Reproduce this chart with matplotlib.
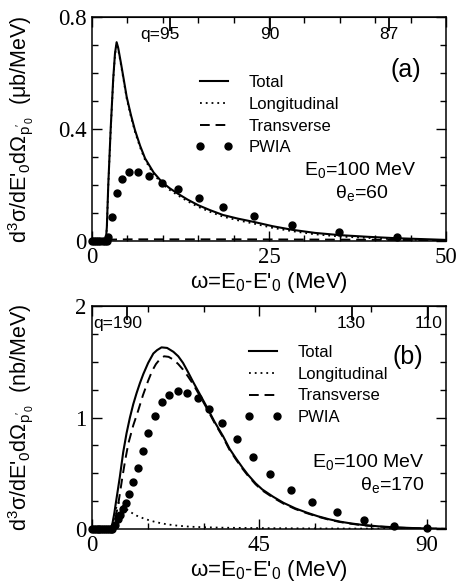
import matplotlib.pyplot as plt
import matplotlib.transforms as mtransforms
from matplotlib.ticker import MultipleLocator, FixedLocator, NullLocator

plt.rcParams['font.family'] = 'Liberation Sans'
plt.rcParams['mathtext.fontset'] = 'custom'
plt.rcParams['mathtext.rm'] = 'Liberation Sans'
plt.rcParams['mathtext.it'] = 'Liberation Sans:italic'

TICK_FONT = 'Liberation Serif'

# ---- panel (a): theta_e = 60 ----
w_total_a = [0, 1.95, 2.1, 2.3, 2.64, 3.0, 3.25, 3.48, 3.7, 4.1, 4.5, 4.9, 5.5, 6.07, 6.8,
             7.5, 8.7, 9.9, 11.0, 12.2, 13.5, 15.0, 16.7, 18.5, 20.6, 22.9, 25.5, 28.3,
             31.5, 35.0, 39.0, 43.0, 46.5, 50.0]
total_a = [0, 0, 0.05, 0.2, 0.40, 0.58, 0.67, 0.71, 0.69, 0.634, 0.575, 0.515, 0.45, 0.396,
           0.34, 0.295, 0.245, 0.21, 0.188, 0.168, 0.148, 0.128, 0.11, 0.093, 0.08, 0.068,
           0.053, 0.04, 0.029, 0.021, 0.015, 0.01, 0.007, 0.004]
long_a = [0, 0, 0.045, 0.195, 0.394, 0.574, 0.664, 0.704, 0.684, 0.628, 0.569, 0.509, 0.444,
          0.39, 0.334, 0.289, 0.239, 0.204, 0.182, 0.162, 0.142, 0.122, 0.104, 0.087, 0.074,
          0.062, 0.047, 0.035, 0.024, 0.016, 0.011, 0.006, 0.004, 0.001]
w_trans_a = [0, 1.95, 2.5, 5.0, 20.0, 35.0, 50.0]
trans_a = [0, 0, 0.005, 0.006, 0.006, 0.005, 0.003]
w_pwia_a = [0, 0.3, 0.6, 0.9, 1.2, 1.5, 1.8, 2.1, 2.33, 2.87, 3.48, 4.29, 5.27, 6.45, 8.1,
            9.93, 12.2, 15.1, 18.5, 22.9, 28.3, 34.9, 43.1]
pwia_a = [0, 0, 0, 0, 0, 0, 0, 0, 0.015, 0.087, 0.17, 0.222, 0.247, 0.247, 0.232, 0.208,
          0.184, 0.155, 0.121, 0.089, 0.057, 0.033, 0.015]
q_pos_a = [11.0, 25.1, 41.9]
q_labels_a = ['q=95', '90', '87']

# ---- panel (b): theta_e = 170 ----
w_total_b = [0, 5.0, 5.5, 6.0, 6.4, 7.0, 7.5, 8.4, 9.3, 10.2, 11.1, 12.0, 12.9, 13.8, 15.1,
             16.5, 17.5, 18.7, 20.2, 21.9, 23.2, 24.5, 25.8, 27.2, 29.0, 30.8, 33.0, 35.3,
             37.0, 38.8, 40.5, 42.0, 44.0, 45.8, 48.7, 51.5, 54.7, 57.7, 60.7, 63.7, 66.7,
             69.7, 72.7, 77.0, 81.6, 86.0, 90.0, 95.2]
total_b = [0, 0, 0.05, 0.14, 0.23, 0.36, 0.47, 0.69, 0.86, 1.0, 1.12, 1.22, 1.31, 1.39, 1.49,
           1.575, 1.605, 1.63, 1.625, 1.59, 1.55, 1.49, 1.41, 1.32, 1.21, 1.10, 0.96, 0.83,
           0.72, 0.63, 0.55, 0.485, 0.41, 0.355, 0.29, 0.235, 0.185, 0.148, 0.115, 0.088,
           0.066, 0.05, 0.037, 0.024, 0.015, 0.009, 0.005, 0.002]
w_trans_b = [0, 5.6, 6.2, 7.1, 8.2, 9.0, 9.8, 11.1, 12.4, 13.7, 15.1, 16.2, 17.2, 18.3, 19.4,
             20.6, 21.9, 23.2, 24.5, 25.8, 27.2, 29.0, 30.8, 33.0, 35.3, 37.0, 38.8, 40.5,
             42.0, 44.0, 45.8, 48.7, 51.5, 54.7, 57.7, 60.7, 63.7, 66.7, 69.7, 72.7, 77.0,
             81.6, 86.0, 90.0, 95.2]
trans_b = [0, 0, 0.08, 0.23, 0.47, 0.63, 0.77, 0.93, 1.06, 1.20, 1.33, 1.42, 1.48, 1.525,
           1.55, 1.545, 1.52, 1.48, 1.43, 1.37, 1.30, 1.195, 1.088, 0.95, 0.82, 0.71, 0.62,
           0.54, 0.476, 0.401, 0.346, 0.282, 0.228, 0.179, 0.143, 0.111, 0.084, 0.063,
           0.047, 0.034, 0.022, 0.013, 0.008, 0.004, 0.001]
w_long_b = [0, 5.3, 5.8, 6.2, 6.6, 7.1, 7.6, 8.0, 9.0, 10.2, 12.0, 13.8, 15.5, 17.4, 20.0,
            23.0, 26.3, 30.0, 35.0, 42.0, 50.0, 60.0, 70.0, 95.2]
long_b = [0, 0, 0.08, 0.15, 0.2, 0.235, 0.235, 0.22, 0.185, 0.155, 0.12, 0.096, 0.077, 0.06,
          0.043, 0.03, 0.021, 0.016, 0.012, 0.009, 0.007, 0.005, 0.004, 0.002]
w_pwia_b = [0, 0.5, 1.0, 1.5, 2.0, 2.5, 3.0, 3.5, 4.0, 4.5, 5.0, 5.5, 6.2, 6.9, 7.6, 8.3, 9.1,
            10.0, 11.1, 12.4, 13.6, 15.1, 16.9, 18.7, 20.8, 23.2, 25.6, 28.4, 31.5, 35.0,
            38.9, 43.2, 48.0, 53.4, 59.2, 65.8, 73.1, 81.2, 90.1]
pwia_b = [0, 0, 0, 0, 0, 0, 0, 0, 0, 0, 0, 0, 0.04, 0.09, 0.13, 0.18, 0.236, 0.314, 0.419,
          0.544, 0.70, 0.864, 1.016, 1.136, 1.202, 1.238, 1.223, 1.172, 1.076, 0.953, 0.807,
          0.649, 0.49, 0.35, 0.239, 0.15, 0.081, 0.03, 0.009]
q_pos_b = [9.5, 69.8, 90.4]
q_labels_b = ['q=190', '130', '110']


def draw_panel(ax, curves, pwia, xlim, ylim, xmajor, xminor, ymajor, yminor,
               q_pos, q_labels, unit, tag, theta, legend_xy):
    (wt, tot), (wl, lon), (wtr, tra) = curves
    l_tot, = ax.plot(wt, tot, color='k', lw=1.5, label='Total')
    l_lon, = ax.plot(wl, lon, color='k', lw=1.3, ls=(0, (1, 2.2)), label='Longitudinal')
    l_tra, = ax.plot(wtr, tra, color='k', lw=1.4, ls=(0, (5, 3)), label='Transverse')
    l_pw, = ax.plot(pwia[0], pwia[1], 'o', color='k', ms=5, label='PWIA', clip_on=False)

    ax.set_xlim(*xlim)
    ax.set_ylim(*ylim)
    ax.xaxis.set_major_locator(MultipleLocator(xmajor))
    ax.xaxis.set_minor_locator(MultipleLocator(xminor))
    ax.yaxis.set_major_locator(MultipleLocator(ymajor))
    ax.yaxis.set_minor_locator(MultipleLocator(yminor))
    ax.set_xticks(ax.get_xticks())
    ax.set_xticklabels([f'{t:g}' for t in ax.get_xticks()])
    ax.set_yticks(ax.get_yticks())
    ax.set_yticklabels([f'{t:g}' for t in ax.get_yticks()])
    ax.set_xlim(*xlim)
    ax.set_ylim(*ylim)
    ax.tick_params(which='both', direction='in', top=True, right=True, width=1.0)
    ax.tick_params(which='major', length=7, pad=4, labelsize=16.5)
    ax.tick_params(which='minor', length=4)
    for lab in ax.get_xticklabels() + ax.get_yticklabels():
        lab.set_fontfamily(TICK_FONT)
    for sp in ax.spines.values():
        sp.set_linewidth(1.1)

    # momentum transfer marks along the top
    sec = ax.secondary_xaxis('top')
    sec.xaxis.set_major_locator(FixedLocator(q_pos))
    sec.xaxis.set_minor_locator(NullLocator())
    sec.set_xticklabels([])
    sec.tick_params(direction='in', length=10, width=1.3)
    trans = mtransforms.blended_transform_factory(ax.transData, ax.transAxes)
    for w, lab in zip(q_pos, q_labels):
        num = lab.split('=')[-1]
        shift = len(num) * 0.556 * 12.5 / 2
        ax.annotate(lab, xy=(w, 0.922), xycoords=trans, xytext=(shift, 0),
                    textcoords='offset points', ha='right', va='center', fontsize=12.5)

    ax.set_xlabel("ω=E$_0$-E'$_0$ (MeV)", fontsize=16, labelpad=2)
    ax.set_ylabel("d$^3$σ/dE'$_0$dΩ$_{\\mathrm{p'_0}}$  (" + unit + ")", fontsize=15.5)
    ax.yaxis.set_label_coords(-0.16, 0.5)

    ax.legend(handles=[l_tot, l_lon, l_tra, l_pw], loc='upper left',
              bbox_to_anchor=legend_xy, frameon=False, fontsize=12, numpoints=2,
              handlelength=2.3, handletextpad=0.9, labelspacing=0.4,
              borderpad=0, borderaxespad=0)

    ax.text(tag[1], tag[2], tag[0], transform=ax.transAxes, fontsize=18,
            ha='center', va='center')
    ax.text(theta[0], theta[1], 'E$_0$=100 MeV', transform=ax.transAxes, fontsize=14,
            ha='center', va='center')
    ax.text(theta[2], theta[3], 'θ$_\\mathrm{e}$=' + theta[4], transform=ax.transAxes,
            fontsize=14, ha='center', va='center')


fig = plt.figure(figsize=(4.59, 5.85), dpi=100)
ax_a = fig.add_axes([0.2004, 0.588, 0.7712, 0.383])
ax_b = fig.add_axes([0.2004, 0.0957, 0.7712, 0.381])

draw_panel(ax_a,
           [(w_total_a, total_a), (w_total_a, long_a), (w_trans_a, trans_a)],
           (w_pwia_a, pwia_a), (0, 50), (0, 0.8), 25, 5, 0.4, 0.1,
           q_pos_a, q_labels_a, 'μb/MeV', ('(a)', 0.887, 0.763),
           (0.758, 0.317, 0.763, 0.214, '60'), (0.291, 0.74))
draw_panel(ax_b,
           [(w_total_b, total_b), (w_long_b, long_b), (w_trans_b, trans_b)],
           (w_pwia_b, pwia_b), (0, 95.2), (0, 2), 45, 15, 1, 0.25,
           q_pos_b, q_labels_b, 'nb/MeV', ('(b)', 0.893, 0.771),
           (0.782, 0.30, 0.847, 0.197, '170'), (0.429, 0.825))

fig.savefig('out.png', dpi=100)
